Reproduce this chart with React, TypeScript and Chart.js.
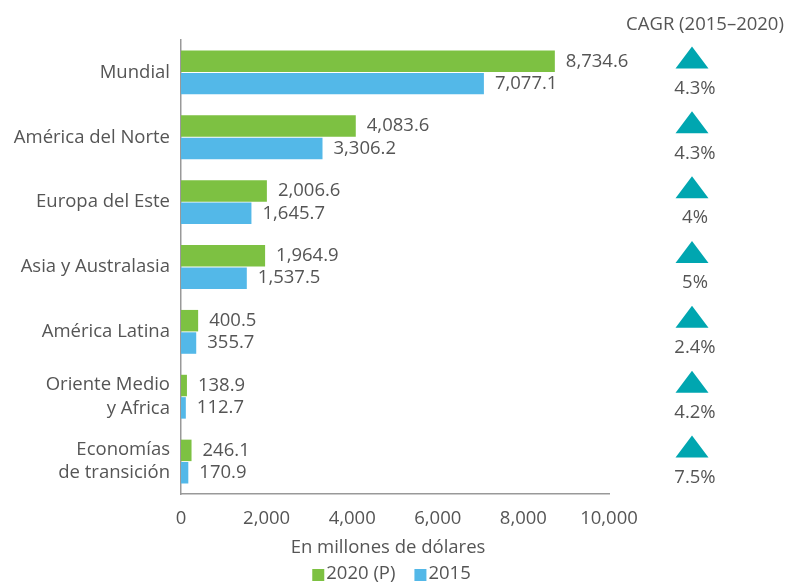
import React, { useEffect, useRef } from "react";
import { Chart, registerables } from "chart.js";
Chart.register(...registerables);

const categories: (string | string[])[] = [
  "Mundial",
  "América del Norte",
  "Europa del Este",
  "Asia y Australasia",
  "América Latina",
  ["Oriente Medio", "y Africa"],
  ["Economías", "de transición"],
];
const values2020 = [8734.6, 4083.6, 2006.6, 1964.9, 400.5, 138.9, 246.1];
const values2015 = [7077.1, 3306.2, 1645.7, 1537.5, 355.7, 112.7, 170.9];
const cagr = ["4.3%", "4.3%", "4%", "5%", "2.4%", "4.2%", "7.5%"];
const seriesLabels = ["2020 (P)", "2015"];
const cagrTitle = "CAGR (2015–2020)";
const axisTitle = "En millones de dólares";
const xMin = 0;
const xMax = 10000;
const xStep = 2000;

const GREEN = "#7dc142";
const BLUE = "#53b8e8";
const TEAL = "#00a6b0";
const TEXT = "#555555";
const FONT = '"Open Sans", sans-serif';
const FS = 18.5;

const fmt = (v: number) =>
  v.toLocaleString("en-US", { minimumFractionDigits: 1, maximumFractionDigits: 1 });

const annotPlugin = {
  id: "annot",
  afterDatasetsDraw(chart: any) {
    const ctx = chart.ctx;
    ctx.save();
    ctx.font = `${FS}px ${FONT}`;
    ctx.fillStyle = TEXT;
    ctx.textBaseline = "middle";
    ctx.textAlign = "left";
    chart.data.datasets.forEach((ds: any, i: number) => {
      const meta = chart.getDatasetMeta(i);
      meta.data.forEach((el: any, j: number) => {
        ctx.fillText(fmt(ds.data[j]), el.x + 11, el.y);
      });
    });

    // CAGR column
    const ys = chart.scales.y;
    const cx = 692;
    ctx.textAlign = "center";
    ctx.fillText(cagrTitle, 705, 25);
    cagr.forEach((t, j) => {
      const cy = ys.getPixelForValue(j);
      ctx.fillStyle = TEAL;
      ctx.beginPath();
      ctx.moveTo(cx, cy - 26);
      ctx.lineTo(cx + 16.5, cy - 4);
      ctx.lineTo(cx - 16.5, cy - 4);
      ctx.closePath();
      ctx.fill();
      ctx.fillStyle = TEXT;
      ctx.fillText(t, 695, cy + 16);
    });

    // axis title
    ctx.fillText(axisTitle, 388, 548);

    // legend
    const box = 12;
    const gap = 2;
    const itemGap = 19;
    const w1 = ctx.measureText(seriesLabels[0]).width;
    const w2 = ctx.measureText(seriesLabels[1]).width;
    const total = box + gap + w1 + itemGap + box + gap + w2;
    let x = 391.5 - total / 2;
    const ly = 574;
    ctx.textAlign = "left";
    const colors = [GREEN, BLUE];
    [w1, w2].forEach((w, i) => {
      ctx.fillStyle = colors[i];
      ctx.fillRect(x, ly - box / 2 + 1, box, box);
      x += box + gap;
      ctx.fillStyle = TEXT;
      ctx.fillText(seriesLabels[i], x, ly);
      x += w + itemGap;
    });
    ctx.restore();
  },
};

export default function App() {
  const ref = useRef<HTMLCanvasElement>(null);
  useEffect(() => {
    if (!ref.current) return;
    const chart = new Chart(ref.current, {
      type: "bar",
      data: {
        labels: categories,
        datasets: [
          {
            label: seriesLabels[0],
            data: values2020,
            backgroundColor: GREEN,
            categoryPercentage: 0.69,
            barPercentage: 0.96,
          },
          {
            label: seriesLabels[1],
            data: values2015,
            backgroundColor: BLUE,
            categoryPercentage: 0.69,
            barPercentage: 0.96,
          },
        ],
      },
      options: {
        indexAxis: "y",
        animation: false,
        responsive: true,
        maintainAspectRatio: false,
        layout: { padding: { top: 40, right: 179, bottom: 0, left: 0 } },
        plugins: {
          legend: { display: false },
          tooltip: { enabled: false },
        },
        scales: {
          x: {
            min: xMin,
            max: xMax,
            grid: { display: false, drawTicks: false },
            border: { display: true, color: "#999999", width: 1.5 },
            ticks: {
              stepSize: xStep,
              padding: 14,
              color: TEXT,
              font: { family: FONT, size: FS },
              callback: (v: any) => Number(v).toLocaleString("en-US"),
            },
            afterFit: (s: any) => {
              s.height = 89;
            },
          },
          y: {
            grid: { display: false, drawTicks: false },
            border: { display: true, color: "#999999", width: 1.5 },
            ticks: {
              padding: 11,
              color: TEXT,
              font: { family: FONT, size: FS, lineHeight: 1.25 },
            },
            afterFit: (s: any) => {
              s.width = 181;
            },
          },
        },
      },
      plugins: [annotPlugin],
    });
    return () => chart.destroy();
  }, []);
  return (
    <div style={{ position: "absolute", left: 0, top: 0, width: 788, height: 583, background: "#fff" }}>
      <canvas ref={ref} />
    </div>
  );
}
